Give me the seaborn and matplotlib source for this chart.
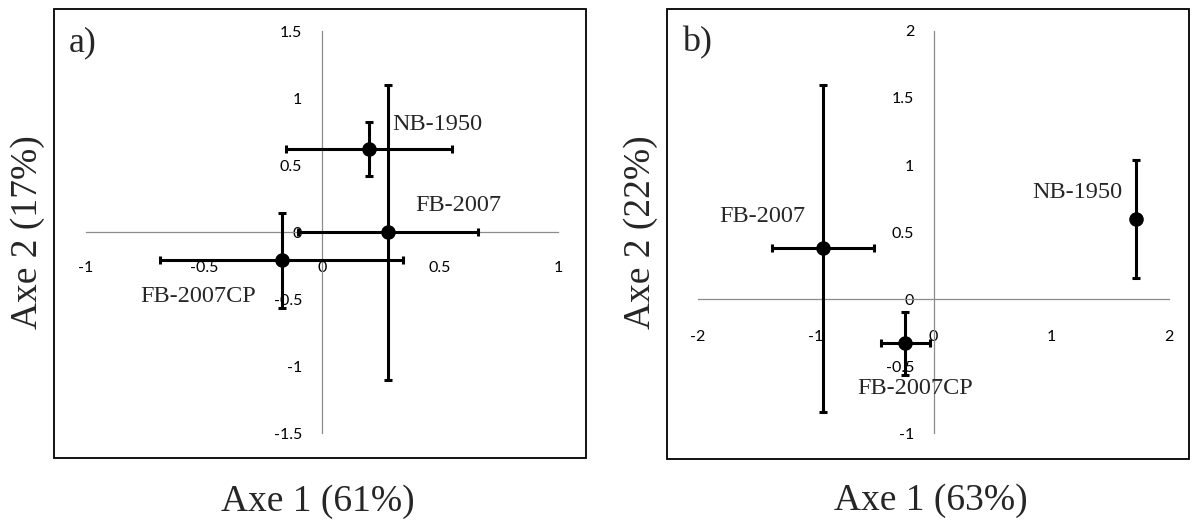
import matplotlib
matplotlib.use("Agg")
import matplotlib.pyplot as plt
import seaborn as sns
from matplotlib.patches import Rectangle

# panel a) data
sites_a = ["NB-1950", "FB-2007", "FB-2007CP"]
axe1_a = [0.20, 0.28, -0.17]
axe2_a = [0.62, 0.0, -0.21]
err1_a = [0.35, 0.38, 0.515]
err2_a = [0.20, 1.10, 0.355]
xticks_a = [-1, -0.5, 0, 0.5, 1]
yticks_a = [-1.5, -1, -0.5, 0, 0.5, 1, 1.5]

# panel b) data
sites_b = ["NB-1950", "FB-2007", "FB-2007CP"]
axe1_b = [1.72, -0.94, -0.24]
axe2_b = [0.60, 0.38, -0.33]
err1_b = [0.0, 0.43, 0.205]
err2_b = [0.44, 1.22, 0.235]
xticks_b = [-2, -1, 0, 1, 2]
yticks_b = [-1, -0.5, 0, 0.5, 1, 1.5, 2]

sns.set_theme(style="white")
plt.rcParams["axes.unicode_minus"] = False
serif = ["Liberation Serif", "DejaVu Serif"]
tickfont = ["Lato", "DejaVu Sans"]

W, H = 1192, 520
fig = plt.figure(figsize=(W / 100, H / 100), dpi=100)


def px_axes(l, t, r, b):
    return fig.add_axes([l / W, 1 - b / H, (r - l) / W, (b - t) / H])


def panel(ax, x, y, xe, ye, names, xticks, yticks, xlim, ylim, offsets, tag, xpad):
    ax.set_xlim(*xlim)
    ax.set_ylim(*ylim)
    ax.errorbar(x, y, xerr=xe, yerr=ye, fmt="none", ecolor="black",
                elinewidth=2.2, capsize=3, capthick=2.2, zorder=3)
    sns.scatterplot(x=x, y=y, color="black", s=110, edgecolor="black",
                    linewidth=0, zorder=4, ax=ax, legend=False)
    for name, xi, yi in zip(names, x, y):
        dx, dy, ha = offsets[name]
        ax.annotate(name, (xi, yi), xytext=(dx, dy), textcoords="offset pixels",
                    ha=ha, va="center", fontsize=17.5, family=serif, zorder=5)

    for s in ["top", "right"]:
        ax.spines[s].set_visible(False)
    for s in ["left", "bottom"]:
        ax.spines[s].set_position(("data", 0))
        ax.spines[s].set_color("#8c8c8c")
        ax.spines[s].set_linewidth(0.9)
        ax.spines[s].set_zorder(1)
    ax.spines["bottom"].set_bounds(min(xticks), max(xticks))
    ax.spines["left"].set_bounds(min(yticks), max(yticks))
    ax.set_xticks(xticks)
    ax.set_yticks(yticks)
    ax.set_xticklabels([f"{v:g}" for v in xticks], family=tickfont, fontsize=11.5)
    ax.set_yticklabels([f"{v:g}" for v in yticks], family=tickfont, fontsize=11.5)
    ax.tick_params(axis="x", direction="out", length=3.6, width=0.9,
                   color="#8c8c8c", pad=xpad, labelcolor="black")
    ax.tick_params(axis="y", direction="out", length=5, width=0.9,
                   color="#8c8c8c", pad=9, labelcolor="black")
    ax.grid(False)
    ax.set_facecolor("white")
    ax.add_patch(Rectangle((0, 0), 1, 1, transform=ax.transAxes, fill=False,
                           edgecolor="black", linewidth=1.3, clip_on=False, zorder=6))
    ax.text(0.028, 0.925, tag, transform=ax.transAxes, ha="left", va="center",
            fontsize=26, family=serif)


ax_a = px_axes(54.3, 9.3, 585.7, 457.7)
panel(ax_a, axe1_a, axe2_a, err1_a, err2_a, sites_a, xticks_a, yticks_a,
      (-1.133, 1.118), (-1.682, 1.662),
      {"NB-1950": (23, 25, "left"), "FB-2007": (27, 27, "left"),
       "FB-2007CP": (-26, -36, "right")}, "a)", 17)

ax_b = px_axes(667.3, 9.3, 1189, 459)
panel(ax_b, axe1_b, axe2_b, err1_b, err2_b, sites_b, xticks_b, yticks_b,
      (-2.262, 2.169), (-1.191, 2.161),
      {"NB-1950": (-14, 26, "right"), "FB-2007": (-18, 32, "right"),
       "FB-2007CP": (10, -45, "center")}, "b)", 18.5)

fig.text(318 / W, 1 - 502 / H, "Axe 1 (61%)", ha="center", va="center",
         fontsize=27, family=serif)
fig.text(931 / W, 1 - 501 / H, "Axe 1 (63%)", ha="center", va="center",
         fontsize=27, family=serif)
fig.text(28 / W, 1 - 232 / H, "Axe 2 (17%)", ha="center", va="center",
         rotation=90, fontsize=27, family=serif)
fig.text(641 / W, 1 - 232 / H, "Axe 2 (22%)", ha="center", va="center",
         rotation=90, fontsize=27, family=serif)

fig.savefig("out.png", dpi=100, facecolor="white")
